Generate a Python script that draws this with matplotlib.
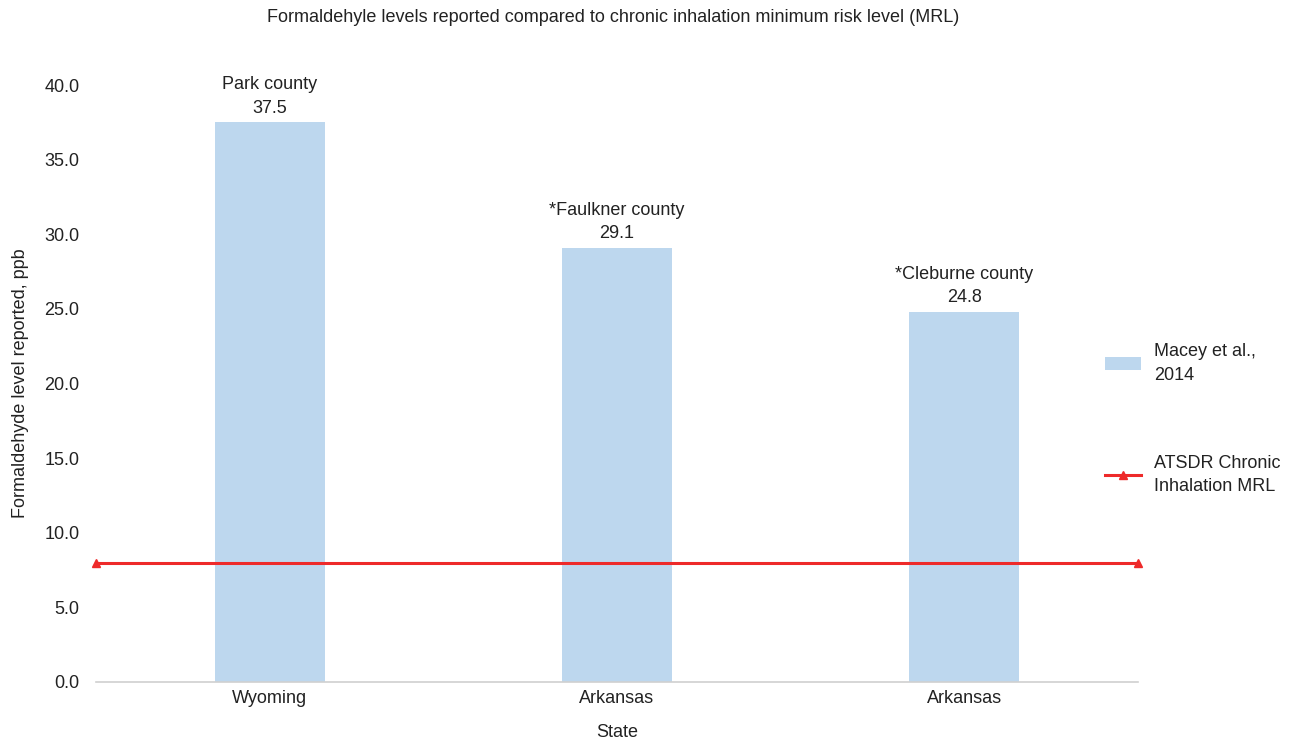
import numpy as np
import matplotlib
matplotlib.use("Agg")
import matplotlib.pyplot as plt
from matplotlib.ticker import FormatStrFormatter

states = ["Wyoming", "Arkansas", "Arkansas"]
counties = ["Park county", "*Faulkner county", "*Cleburne county"]
levels = [37.5, 29.1, 24.8]
mrl = 8.0

BAR = "#BDD7EE"
RED = "#EE2A2A"
TXT = "#222222"

plt.rcParams["font.family"] = ["Liberation Sans", "DejaVu Sans"]

fig = plt.figure(figsize=(12.95, 7.41), dpi=100)
ax = fig.add_axes([96 / 1295, 1 - 682 / 741, (1138 - 96) / 1295, (682 - 85) / 741])

x = np.arange(len(states))
bars = ax.bar(x, levels, width=0.317, color=BAR, label="Macey et al.,\n2014", zorder=2)
line, = ax.plot([-0.5, len(states) - 0.5], [mrl, mrl], color=RED, lw=2.2, marker="^",
                markersize=6, label="ATSDR Chronic\nInhalation MRL", zorder=3, clip_on=False)

for xi, v, c in zip(x, levels, counties):
    ax.annotate(f"{c}\n{v:.1f}", (xi, v), xytext=(0, 4), textcoords="offset points",
                ha="center", va="bottom", fontsize=13, color=TXT,
                linespacing=1.5, annotation_clip=False)

ax.set_xlim(-0.5, len(states) - 0.5)
ax.set_ylim(0, 40)
ax.set_yticks(np.arange(0, 41, 5))
ax.yaxis.set_major_formatter(FormatStrFormatter("%.1f"))
ax.set_xticks(x)
ax.set_xticklabels(states)
ax.tick_params(axis="both", length=0, labelsize=13, colors=TXT)
ax.tick_params(axis="y", pad=12)
ax.tick_params(axis="x", pad=6)

for s in ["top", "right", "left"]:
    ax.spines[s].set_visible(False)
ax.spines["bottom"].set_color("#D0D0D0")
ax.spines["bottom"].set_linewidth(1.2)

ax.set_xlabel("State", fontsize=13, color=TXT, labelpad=12)
ax.set_ylabel("Formaldehyde level reported, ppb", fontsize=13, color=TXT, labelpad=11)
fig.text(613 / 1295, 1 - 17 / 741, "Formaldehyle levels reported compared to chronic inhalation minimum risk level (MRL)",
         ha="center", va="center", fontsize=13, color=TXT)

leg = fig.legend([bars, line], [bars.get_label(), line.get_label()],
                 loc="upper left", bbox_to_anchor=(1105 / 1295, 1 - 343 / 741), frameon=False,
                 fontsize=13, labelspacing=3.95, handlelength=2.0, handletextpad=0.7,
                 borderpad=0, borderaxespad=0, labelcolor=TXT)
for t in leg.get_texts():
    t.set_linespacing(1.5)

fig.savefig("out.png", dpi=100)
